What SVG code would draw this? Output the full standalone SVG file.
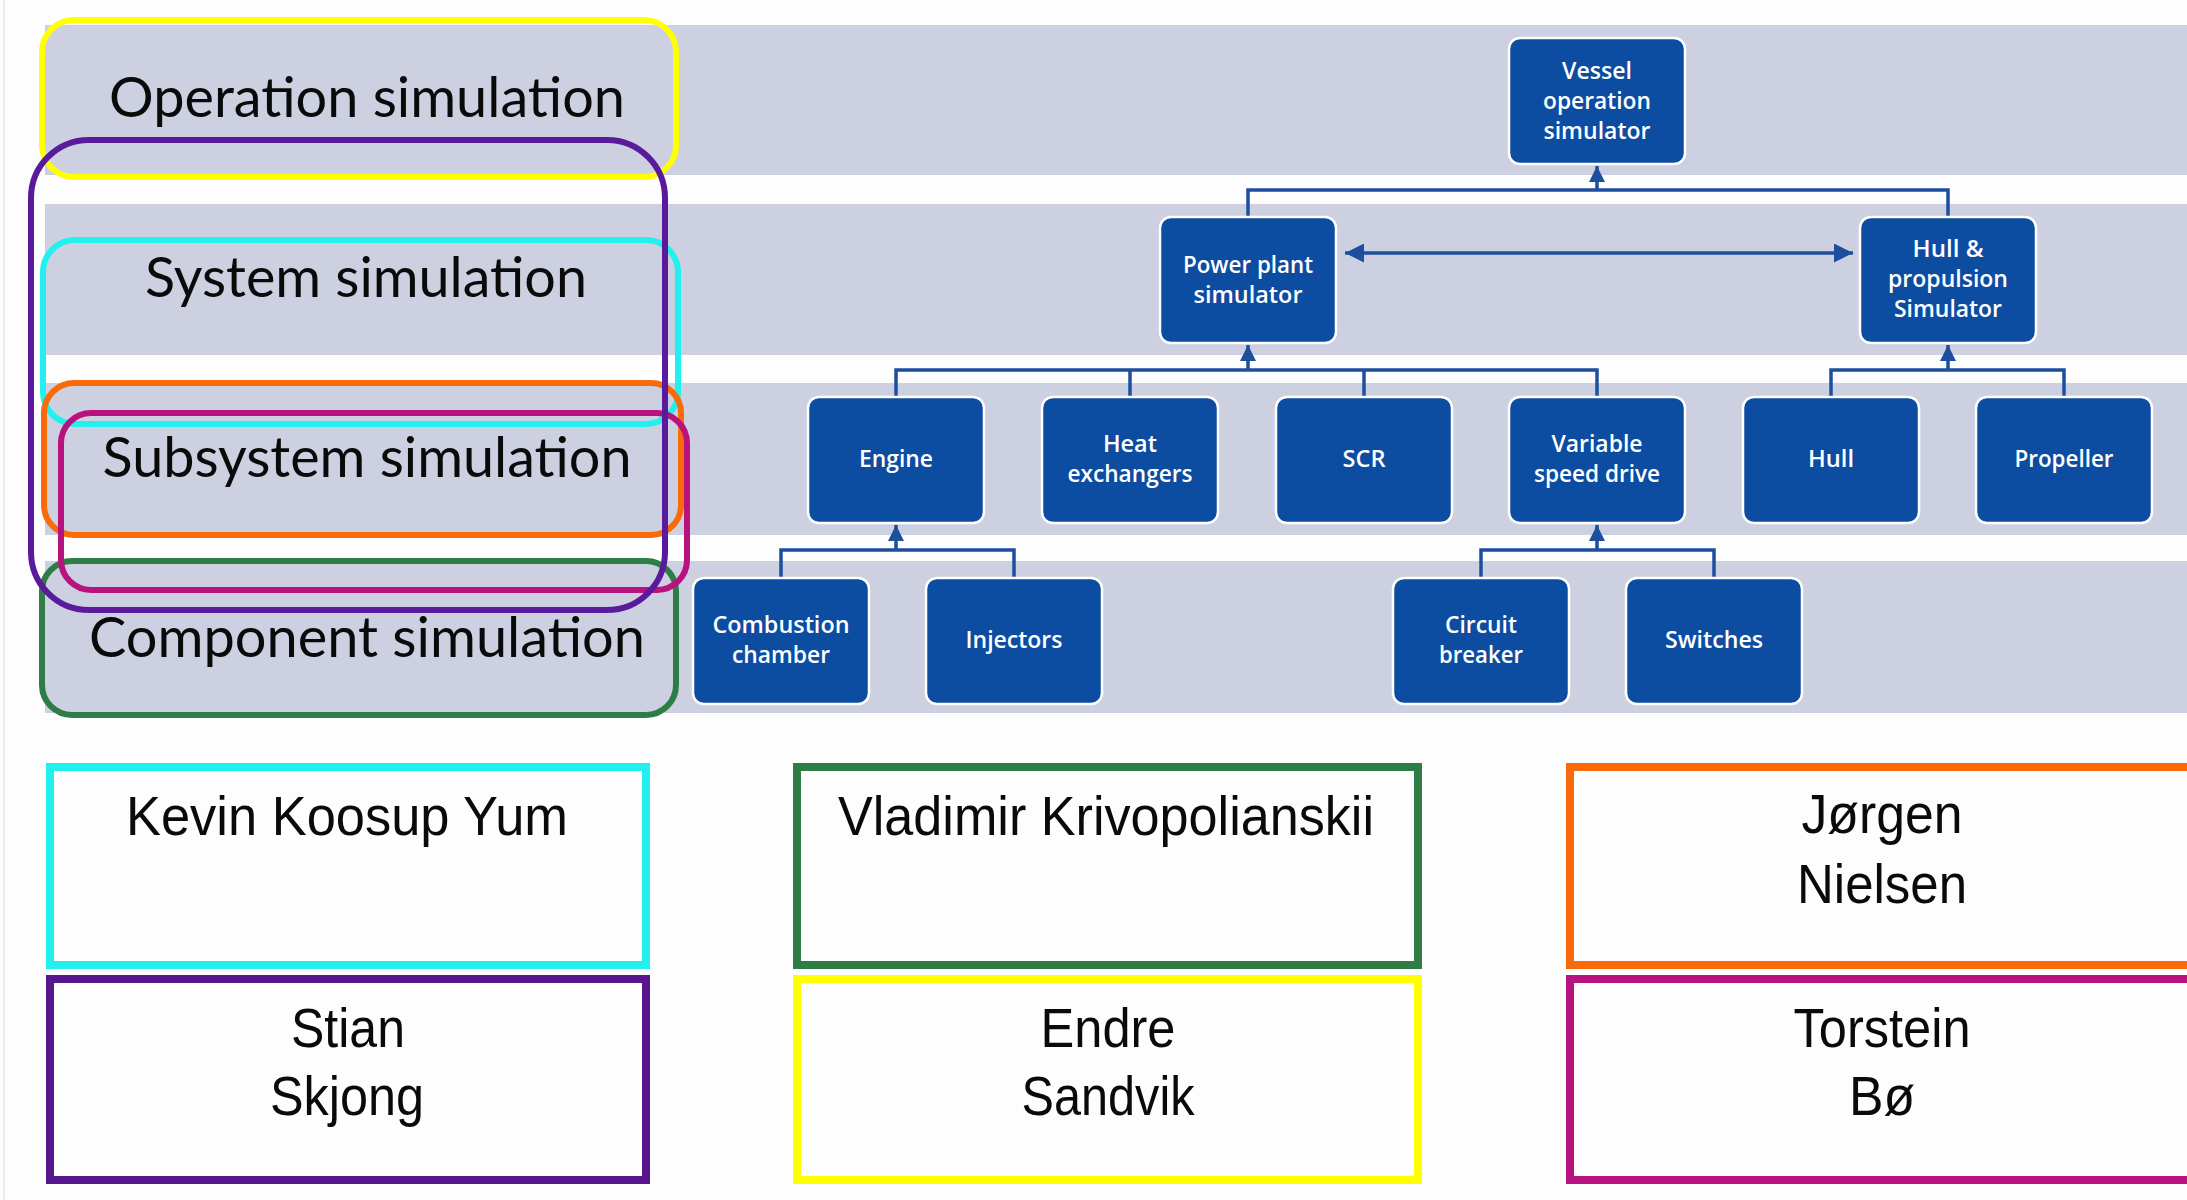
<svg xmlns="http://www.w3.org/2000/svg" width="2187" height="1200" viewBox="0 0 2187 1200">
<defs>
<style>
.band{fill:#CCD0E0}
.outl{fill:none;stroke-width:6}
.lvl{font-family:Lato,"Open Sans","DejaVu Sans",sans-serif;font-size:56px;fill:#0a0a0a;text-anchor:middle}
.node rect{fill:#0C4DA2;stroke:#ffffff;stroke-width:2.5}
.node text{font-family:"Open Sans","Noto Sans","DejaVu Sans",sans-serif;font-size:23px;font-weight:600;fill:#ffffff;text-anchor:middle}
.conn{fill:none;stroke:#1D4F9E;stroke-width:3.5}
.name rect{fill:none;stroke-width:8}
.name text{font-family:"Liberation Sans",Arial,sans-serif;font-size:55px;fill:#0a0a0a;text-anchor:middle}
</style>
<marker id="ah" viewBox="0 0 10 10" refX="10" refY="5" markerWidth="16" markerHeight="16" markerUnits="userSpaceOnUse" orient="auto-start-reverse">
<path d="M0,0 L10,5 L0,10 z" fill="#1D4F9E"/>
</marker>
<marker id="ah2" viewBox="0 0 10 10" refX="10" refY="5" markerWidth="19" markerHeight="19" markerUnits="userSpaceOnUse" orient="auto-start-reverse">
<path d="M0,0 L10,5 L0,10 z" fill="#1D4F9E"/>
</marker>
</defs>
<rect x="0" y="0" width="2187" height="1200" fill="#FDFDFD"/>
<line x1="4" y1="0" x2="4" y2="1200" stroke="#E4E4E4" stroke-width="1.5"/>

<g id="bands">
<rect class="band" x="45" y="25" width="2142" height="150"/>
<rect class="band" x="45" y="204" width="2142" height="151"/>
<rect class="band" x="45" y="383" width="2142" height="152"/>
<rect class="band" x="45" y="561" width="2142" height="152"/>
</g>

<g id="level-labels">
<text class="lvl" x="367" y="117" textLength="516" lengthAdjust="spacingAndGlyphs">Operation simulation</text>
<text class="lvl" x="366" y="297" textLength="442" lengthAdjust="spacingAndGlyphs">System simulation</text>
<text class="lvl" x="367" y="477" textLength="529" lengthAdjust="spacingAndGlyphs">Subsystem simulation</text>
<text class="lvl" x="367" y="657" textLength="556" lengthAdjust="spacingAndGlyphs">Component simulation</text>
</g>

<g id="level-outlines">
<rect class="outl" x="42" y="20" width="634" height="157" rx="32" stroke="#FFFF00"/>
<rect class="outl" x="43" y="240" width="635" height="184" rx="32" stroke="#22F0EE"/>
<rect class="outl" x="44" y="383" width="637" height="152" rx="30" stroke="#F96B0A"/>
<rect class="outl" x="42" y="561" width="634" height="154" rx="30" stroke="#2E7D46"/>
<rect class="outl" x="61" y="413" width="626" height="177" rx="30" stroke="#B8127F"/>
<rect class="outl" x="31" y="140" width="634" height="470" rx="58" stroke="#5A1A9C"/>
</g>

<g id="connectors">
<polyline class="conn" points="1248,217 1248,190 1948,190 1948,217"/>
<line class="conn" x1="1597" y1="190" x2="1597" y2="166" marker-end="url(#ah)"/>
<line class="conn" x1="1345" y1="253" x2="1853" y2="253" marker-start="url(#ah2)" marker-end="url(#ah2)"/>
<polyline class="conn" points="896,397 896,370 1597,370 1597,397"/>
<line class="conn" x1="1130" y1="370" x2="1130" y2="397"/>
<line class="conn" x1="1364" y1="370" x2="1364" y2="397"/>
<line class="conn" x1="1248" y1="370" x2="1248" y2="345" marker-end="url(#ah)"/>
<polyline class="conn" points="1831,397 1831,370 2064,370 2064,397"/>
<line class="conn" x1="1948" y1="370" x2="1948" y2="345" marker-end="url(#ah)"/>
<polyline class="conn" points="781,578 781,550 1014,550 1014,578"/>
<line class="conn" x1="896" y1="550" x2="896" y2="525" marker-end="url(#ah)"/>
<polyline class="conn" points="1481,578 1481,550 1714,550 1714,578"/>
<line class="conn" x1="1597" y1="550" x2="1597" y2="525" marker-end="url(#ah)"/>
</g>

<g id="vessel" class="node">
<rect x="1509" y="38" width="176" height="126" rx="11"/>
<text x="1597" y="79" textLength="70" lengthAdjust="spacingAndGlyphs">Vessel</text>
<text x="1597" y="109" textLength="108" lengthAdjust="spacingAndGlyphs">operation</text>
<text x="1597" y="139" textLength="107" lengthAdjust="spacingAndGlyphs">simulator</text>
</g>
<g id="power-plant" class="node">
<rect x="1160" y="217" width="176" height="126" rx="11"/>
<text x="1248" y="273" textLength="130" lengthAdjust="spacingAndGlyphs">Power plant</text>
<text x="1248" y="303" textLength="109" lengthAdjust="spacingAndGlyphs">simulator</text>
</g>
<g id="hull-propulsion" class="node">
<rect x="1860" y="217" width="176" height="126" rx="11"/>
<text x="1948" y="257" textLength="71" lengthAdjust="spacingAndGlyphs">Hull &amp;</text>
<text x="1948" y="287" textLength="120" lengthAdjust="spacingAndGlyphs">propulsion</text>
<text x="1948" y="317" textLength="108" lengthAdjust="spacingAndGlyphs">Simulator</text>
</g>
<g id="engine" class="node">
<rect x="808" y="397" width="176" height="126" rx="11"/>
<text x="896" y="467" textLength="74" lengthAdjust="spacingAndGlyphs">Engine</text>
</g>
<g id="heat-exchangers" class="node">
<rect x="1042" y="397" width="176" height="126" rx="11"/>
<text x="1130" y="452" textLength="54" lengthAdjust="spacingAndGlyphs">Heat</text>
<text x="1130" y="482" textLength="125" lengthAdjust="spacingAndGlyphs">exchangers</text>
</g>
<g id="scr" class="node">
<rect x="1276" y="397" width="176" height="126" rx="11"/>
<text x="1364" y="467" textLength="43" lengthAdjust="spacingAndGlyphs">SCR</text>
</g>
<g id="variable-speed-drive" class="node">
<rect x="1509" y="397" width="176" height="126" rx="11"/>
<text x="1597" y="452" textLength="91" lengthAdjust="spacingAndGlyphs">Variable</text>
<text x="1597" y="482" textLength="126" lengthAdjust="spacingAndGlyphs">speed drive</text>
</g>
<g id="hull" class="node">
<rect x="1743" y="397" width="176" height="126" rx="11"/>
<text x="1831" y="467" textLength="46" lengthAdjust="spacingAndGlyphs">Hull</text>
</g>
<g id="propeller" class="node">
<rect x="1976" y="397" width="176" height="126" rx="11"/>
<text x="2064" y="467" textLength="99" lengthAdjust="spacingAndGlyphs">Propeller</text>
</g>
<g id="combustion-chamber" class="node">
<rect x="693" y="578" width="176" height="126" rx="11"/>
<text x="781" y="633" textLength="137" lengthAdjust="spacingAndGlyphs">Combustion</text>
<text x="781" y="663" textLength="98" lengthAdjust="spacingAndGlyphs">chamber</text>
</g>
<g id="injectors" class="node">
<rect x="926" y="578" width="176" height="126" rx="11"/>
<text x="1014" y="648" textLength="97" lengthAdjust="spacingAndGlyphs">Injectors</text>
</g>
<g id="circuit-breaker" class="node">
<rect x="1393" y="578" width="176" height="126" rx="11"/>
<text x="1481" y="633" textLength="72" lengthAdjust="spacingAndGlyphs">Circuit</text>
<text x="1481" y="663" textLength="84" lengthAdjust="spacingAndGlyphs">breaker</text>
</g>
<g id="switches" class="node">
<rect x="1626" y="578" width="176" height="126" rx="11"/>
<text x="1714" y="648" textLength="98" lengthAdjust="spacingAndGlyphs">Switches</text>
</g>

<g id="name-kevin" class="name">
<rect x="50" y="767" width="596" height="198" stroke="#22F0EE"/>
<text x="347" y="835" textLength="442" lengthAdjust="spacingAndGlyphs">Kevin Koosup Yum</text>
</g>
<g id="name-stian" class="name">
<rect x="50" y="979" width="596" height="201" stroke="#55168F"/>
<text x="348" y="1047" textLength="114" lengthAdjust="spacingAndGlyphs">Stian</text>
<text x="347" y="1115" textLength="154" lengthAdjust="spacingAndGlyphs">Skjong</text>
</g>
<g id="name-vladimir" class="name">
<rect x="797" y="767" width="621" height="198" stroke="#2E7D46"/>
<text x="1106" y="835" textLength="536" lengthAdjust="spacingAndGlyphs">Vladimir Krivopolianskii</text>
</g>
<g id="name-endre" class="name">
<rect x="797" y="979" width="621" height="201" stroke="#FFFF00"/>
<text x="1108" y="1047" textLength="135" lengthAdjust="spacingAndGlyphs">Endre</text>
<text x="1108" y="1115" textLength="173" lengthAdjust="spacingAndGlyphs">Sandvik</text>
</g>
<g id="name-jorgen" class="name">
<rect x="1570" y="767" width="625" height="198" stroke="#F96B0A"/>
<text x="1882" y="833" textLength="161" lengthAdjust="spacingAndGlyphs">Jørgen</text>
<text x="1882" y="903" textLength="170" lengthAdjust="spacingAndGlyphs">Nielsen</text>
</g>
<g id="name-torstein" class="name">
<rect x="1570" y="979" width="625" height="201" stroke="#B8127F"/>
<text x="1882" y="1047" textLength="177" lengthAdjust="spacingAndGlyphs">Torstein</text>
<text x="1882" y="1115" textLength="66" lengthAdjust="spacingAndGlyphs">Bø</text>
</g>
</svg>
